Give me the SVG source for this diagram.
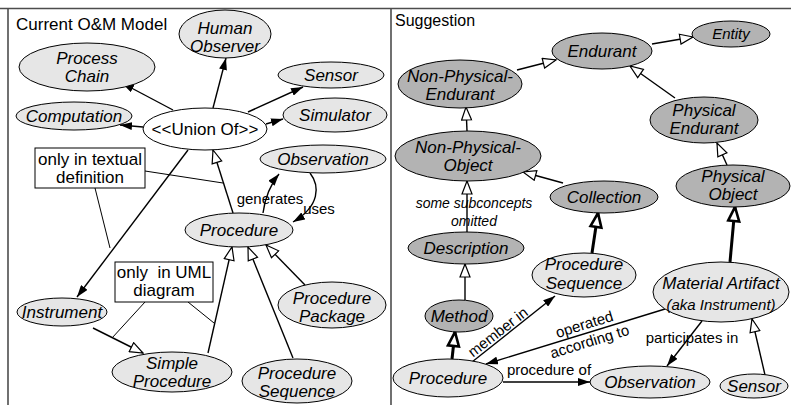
<svg xmlns="http://www.w3.org/2000/svg" width="791" height="405" viewBox="0 0 791 405">
<style>
text{font-family:"Liberation Sans",Arial,sans-serif;fill:#000}
.n{font-size:17px;font-style:italic;text-anchor:middle}
.u{font-size:17px;text-anchor:middle}
.lbl{font-size:15px;text-anchor:middle}
.sm{font-size:15px}
.it{font-size:14px;font-style:italic;text-anchor:middle}
.title{font-size:16px}
.lt{fill:#e6e6e6;stroke:#000;stroke-width:1}
.dk{fill:#b3b3b3;stroke:#000;stroke-width:1}
.wh{fill:#fff;stroke:#000;stroke-width:1}
.c{fill:none;stroke:#000;stroke-width:1.4}
.ck{fill:none;stroke:#000;stroke-width:3}
.note{fill:none;stroke:#000;stroke-width:1}
.fa{marker-end:url(#fill)}
.ha{marker-end:url(#hollow)}
.hk{marker-end:url(#hollowk)}
</style>
<defs>
<marker id="fill" viewBox="0 0 12 8" refX="12" refY="4" markerWidth="12" markerHeight="8" orient="auto" markerUnits="userSpaceOnUse"><path d="M0,0 L12,4 L0,8 z" fill="#000"/></marker>
<marker id="hollow" viewBox="-1 -1 15 12" refX="13" refY="5" markerWidth="15" markerHeight="12" orient="auto" markerUnits="userSpaceOnUse"><path d="M0,0 L13,5 L0,10 z" fill="#fff" stroke="#000" stroke-width="1.2"/></marker>
<marker id="hollowk" viewBox="-2 -2 18 15" refX="14" refY="5.5" markerWidth="18" markerHeight="15" orient="auto" markerUnits="userSpaceOnUse"><path d="M0,0 L14,5.5 L0,11 z" fill="#fff" stroke="#000" stroke-width="2.6"/></marker>
</defs>
<rect width="791" height="405" fill="#fff"/>
<g id="frame" fill="none" stroke="#4d4d4d" stroke-width="1.6">
<line x1="0" y1="8.5" x2="791" y2="8.5"/>
<line x1="8" y1="8.5" x2="8" y2="405"/>
<line x1="391" y1="8.5" x2="391" y2="405"/>
</g>
<text x="16" y="30" style="font-size:17px">Current O&amp;M Model</text>
<text class="title" x="395" y="26">Suggestion</text>

<g id="connectors">
<line class="c fa" x1="173" y1="110" x2="122" y2="83"/>
<line class="c fa" x1="213" y1="108" x2="226" y2="58"/>
<line class="c fa" x1="248" y1="112" x2="303" y2="87"/>
<line class="c fa" x1="266" y1="124" x2="283" y2="119"/>
<line class="c fa" x1="143" y1="127" x2="120" y2="125"/>
<line class="c fa" x1="188" y1="150" x2="77" y2="297"/>
<line class="c ha" x1="233" y1="213" x2="213" y2="150"/>
<path class="c fa" d="M263,213 Q266,190 279,174"/>
<path class="c fa" d="M310,173 C320,186 320,206 293,222"/>
<line class="c ha" x1="93" y1="328" x2="143" y2="353"/>
<line class="c ha" x1="208" y1="353" x2="232" y2="247"/>
<line class="c ha" x1="293" y1="358" x2="248" y2="247"/>
<line class="c ha" x1="305" y1="285" x2="266" y2="245"/>
<line class="note" x1="145" y1="171" x2="223" y2="183"/>
<line class="note" x1="95" y1="188" x2="110" y2="248"/>
<line class="note" x1="145" y1="302" x2="112" y2="338"/>
<line class="note" x1="188" y1="302" x2="214" y2="323"/>
<line class="c ha" x1="652" y1="44" x2="693" y2="37"/>
<line class="c ha" x1="517" y1="70" x2="556" y2="60"/>
<line class="c ha" x1="675" y1="98" x2="630" y2="66"/>
<line class="c ha" x1="467" y1="131" x2="466" y2="107"/>
<line class="c ha" x1="563" y1="183" x2="523" y2="172"/>
<line class="c ha" x1="727" y1="165" x2="717" y2="143"/>
<line class="c ha" x1="467" y1="232" x2="467" y2="181"/>
<line class="c ha" x1="465" y1="300" x2="465" y2="264"/>
<line class="ck hk" x1="592" y1="253" x2="598" y2="213"/>
<line class="ck hk" x1="730" y1="262" x2="735" y2="207"/>
<line class="ck hk" x1="452" y1="359" x2="455" y2="332"/>
<line class="c fa" x1="472" y1="362" x2="555" y2="296"/>
<line class="c fa" x1="665" y1="309" x2="486" y2="364"/>
<line class="c fa" x1="702" y1="321" x2="667" y2="366"/>
<line class="c fa" x1="503" y1="382" x2="590" y2="382"/>
<line class="c ha" x1="765" y1="375" x2="752" y2="319"/>
</g>

<g id="labels">
<text class="lbl" x="270" y="204">generates</text>
<text class="lbl" x="319" y="214">uses</text>
<text class="lbl" x="0" y="0" transform="translate(501,336) rotate(-37.7)">member in</text>
<g transform="translate(587,333) rotate(-17.1)">
<text class="lbl" x="0" y="-4">operated</text>
<text class="lbl" x="0" y="14">according to</text>
</g>
<text class="lbl" x="692" y="343">participates in</text>
<text class="lbl" x="549" y="375">procedure of</text>
<text class="it" x="474" y="208">some subconcepts</text>
<text class="it" x="474" y="226">omitted</text>
</g>

<g id="note-textual">
<rect x="35" y="148" width="110" height="40" fill="#fff" stroke="#000"/>
<text class="u" x="90" y="165">only in textual</text>
<text class="u" x="90" y="183">definition</text>
</g>
<g id="note-uml">
<rect x="115" y="262" width="98" height="40" fill="#fff" stroke="#000"/>
<text class="u" x="164" y="278" xml:space="preserve">only  in UML</text>
<text class="u" x="164" y="296">diagram</text>
</g>

<g id="process-chain"><ellipse class="lt" cx="87" cy="67" rx="68" ry="24"/><text class="n" x="87" y="64">Process</text><text class="n" x="87" y="82">Chain</text></g>
<g id="human-observer"><ellipse class="lt" cx="225" cy="34" rx="46" ry="24"/><text class="n" x="225" y="34">Human</text><text class="n" x="225" y="52">Observer</text></g>
<g id="sensor-left"><ellipse class="lt" cx="331" cy="75" rx="53" ry="13"/><text class="n" x="331" y="81">Sensor</text></g>
<g id="computation"><ellipse class="lt" cx="74" cy="116" rx="58" ry="14"/><text class="n" x="74" y="122">Computation</text></g>
<g id="simulator"><ellipse class="lt" cx="335" cy="115" rx="52" ry="17"/><text class="n" x="335" y="121">Simulator</text></g>
<g id="union-of"><ellipse class="wh" cx="205" cy="129" rx="62" ry="21"/><text class="u" x="205" y="135">&lt;&lt;Union Of&gt;&gt;</text></g>
<g id="observation-left"><ellipse class="lt" cx="323" cy="159" rx="63" ry="14"/><text class="n" x="323" y="165">Observation</text></g>
<g id="procedure-left"><ellipse class="lt" cx="239" cy="230" rx="54" ry="17"/><text class="n" x="239" y="236">Procedure</text></g>
<g id="instrument"><ellipse class="lt" cx="62" cy="312" rx="45" ry="14"/><text class="n" x="62" y="318">Instrument</text></g>
<g id="simple-procedure"><ellipse class="lt" cx="172" cy="372" rx="60" ry="20"/><text class="n" x="172" y="369">Simple</text><text class="n" x="172" y="387">Procedure</text></g>
<g id="procedure-sequence-left"><ellipse class="lt" cx="297" cy="381" rx="55" ry="22"/><text class="n" x="297" y="379">Procedure</text><text class="n" x="297" y="397">Sequence</text></g>
<g id="procedure-package"><ellipse class="lt" cx="332" cy="305" rx="54" ry="23"/><text class="n" x="332" y="304">Procedure</text><text class="n" x="332" y="322">Package</text></g>

<g id="entity"><ellipse class="dk" cx="731" cy="34" rx="39" ry="13"/><text class="n sm" x="731" y="39">Entity</text></g>
<g id="endurant"><ellipse class="dk" cx="602" cy="51" rx="50" ry="18"/><text class="n" x="602" y="57">Endurant</text></g>
<g id="non-physical-endurant"><ellipse class="dk" cx="460" cy="84" rx="62" ry="24"/><text class="n" x="460" y="82">Non-Physical-</text><text class="n" x="460" y="100">Endurant</text></g>
<g id="physical-endurant"><ellipse class="dk" cx="704" cy="120" rx="54" ry="23"/><text class="n" x="704" y="116">Physical</text><text class="n" x="704" y="134">Endurant</text></g>
<g id="non-physical-object"><ellipse class="dk" cx="468" cy="156" rx="73" ry="25"/><text class="n" x="468" y="153">Non-Physical-</text><text class="n" x="468" y="171">Object</text></g>
<g id="collection"><ellipse class="dk" cx="604" cy="197" rx="54" ry="16"/><text class="n" x="604" y="203">Collection</text></g>
<g id="physical-object"><ellipse class="dk" cx="733" cy="186" rx="57" ry="21"/><text class="n" x="733" y="182">Physical</text><text class="n" x="733" y="200">Object</text></g>
<g id="description"><ellipse class="dk" cx="466" cy="248" rx="58" ry="16"/><text class="n" x="466" y="254">Description</text></g>
<g id="procedure-sequence-right"><ellipse class="lt" cx="584" cy="275" rx="52" ry="22"/><text class="n" x="584" y="270">Procedure</text><text class="n" x="584" y="289">Sequence</text></g>
<g id="material-artifact"><ellipse class="lt" cx="721" cy="292" rx="68" ry="30"/><text class="n" x="721" y="289">Material Artifact</text><text class="n sm" x="721" y="310">(aka Instrument)</text></g>
<g id="method"><ellipse class="dk" cx="459" cy="316" rx="34" ry="16"/><text class="n" x="459" y="322">Method</text></g>
<g id="procedure-right"><ellipse class="lt" cx="448" cy="378" rx="55" ry="19"/><text class="n" x="448" y="384">Procedure</text></g>
<g id="observation-right"><ellipse class="lt" cx="650" cy="382" rx="60" ry="16"/><text class="n" x="650" y="388">Observation</text></g>
<g id="sensor-right"><ellipse class="lt" cx="754" cy="386" rx="34" ry="12"/><text class="n" x="754" y="392">Sensor</text></g>
</svg>
